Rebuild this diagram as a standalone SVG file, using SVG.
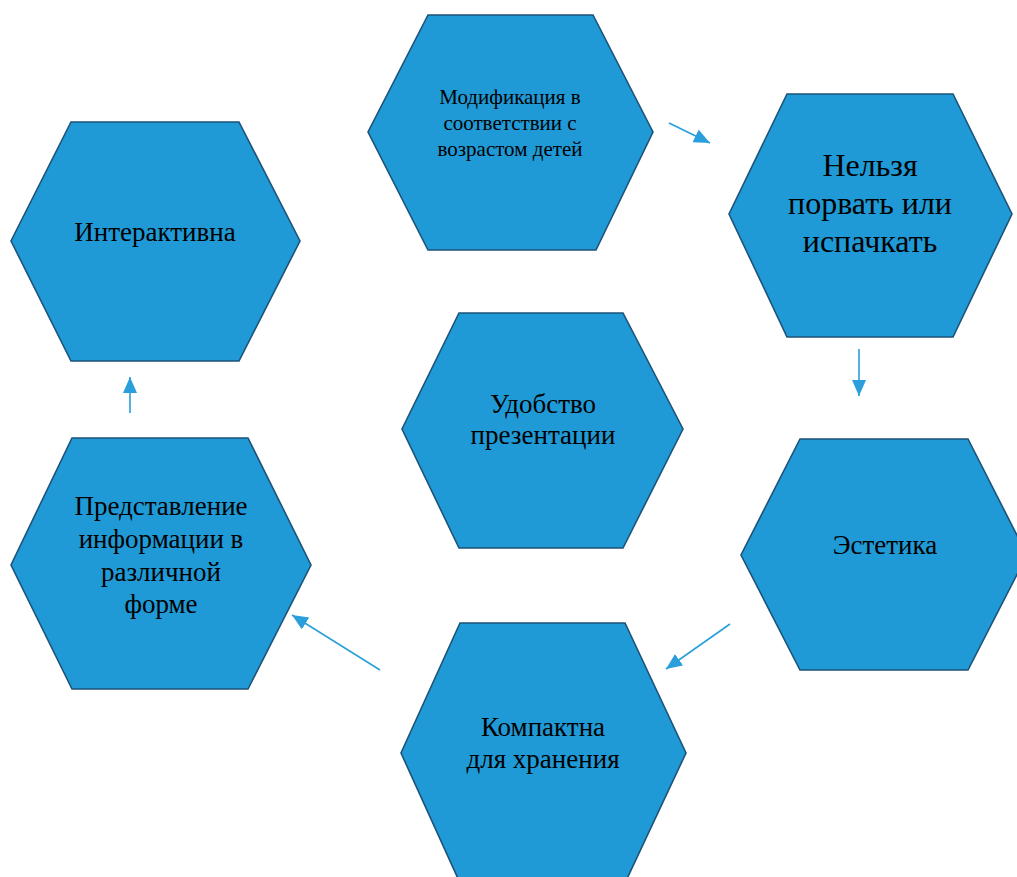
<svg xmlns="http://www.w3.org/2000/svg" width="1017" height="877" viewBox="0 0 1017 877">
  <style>
    .hex { fill: #1F9AD6; stroke: #1D5379; stroke-width: 1.6; stroke-linejoin: miter; }
    .t { font-family: "Liberation Serif", "Times New Roman", serif; fill: #000; text-anchor: middle; font-size: 27px; }
    .conn { stroke: #2A9FDB; stroke-width: 1.6; fill: none; marker-end: url(#ah); }
  </style>
  <defs>
    <marker id="ah" markerUnits="userSpaceOnUse" markerWidth="18" markerHeight="16" refX="16" refY="7" orient="auto">
      <path d="M0,0 L16,7 L0,14 Z" fill="#2A9FDB"/>
    </marker>
  </defs>
  <rect width="1017" height="877" fill="#FFFFFF"/>

  <g id="n-modifikaciya">
    <polygon class="hex" points="428,15 593,15 653,132 596,250 428,250 368,132"/>
    <text class="t" style="font-size:21px" x="510" y="104">Модификация в</text>
    <text class="t" style="font-size:21px" x="510" y="130">соответствии с</text>
    <text class="t" style="font-size:21px" x="510" y="156">возрастом детей</text>
  </g>

  <g id="n-nelzya">
    <polygon class="hex" points="787,94 953,94 1012,214 953,337 787,337 729,214"/>
    <text class="t" style="font-size:32px" x="870" y="176">Нельзя</text>
    <text class="t" style="font-size:32px" x="870" y="214">порвать или</text>
    <text class="t" style="font-size:32px" x="870" y="252">испачкать</text>
  </g>

  <g id="n-interaktivna">
    <polygon class="hex" points="71,122 239,122 300,241 239,361 71,361 11,241"/>
    <text class="t" x="155" y="241">Интерактивна</text>
  </g>

  <g id="n-udobstvo">
    <polygon class="hex" points="459,313 623,313 683,429 623,548 459,548 402,429"/>
    <text class="t" x="543" y="413">Удобство</text>
    <text class="t" x="543" y="444">презентации</text>
  </g>

  <g id="n-predstavlenie">
    <polygon class="hex" points="72,438 248,438 311,565 248,689 72,689 11,565"/>
    <text class="t" x="161" y="515">Представление</text>
    <text class="t" x="161" y="548">информации в</text>
    <text class="t" x="161" y="581">различной</text>
    <text class="t" x="161" y="613">форме</text>
  </g>

  <g id="n-estetika">
    <polygon class="hex" points="800,439 968,439 1027,555 968,670 800,670 741,555"/>
    <text class="t" x="885" y="554">Эстетика</text>
  </g>

  <g id="n-kompaktna">
    <polygon class="hex" points="460,623 625,623 686,753 625,883 460,883 401,753"/>
    <text class="t" x="543" y="736">Компактна</text>
    <text class="t" x="543" y="768">для хранения</text>
  </g>

  <g id="connectors">
    <line class="conn" x1="669" y1="123" x2="710" y2="143"/>
    <line class="conn" x1="859" y1="349" x2="859" y2="396"/>
    <line class="conn" x1="730" y1="624" x2="666" y2="669"/>
    <line class="conn" x1="380" y1="670" x2="292" y2="615"/>
    <line class="conn" x1="130" y1="413" x2="130" y2="377"/>
  </g>
</svg>
